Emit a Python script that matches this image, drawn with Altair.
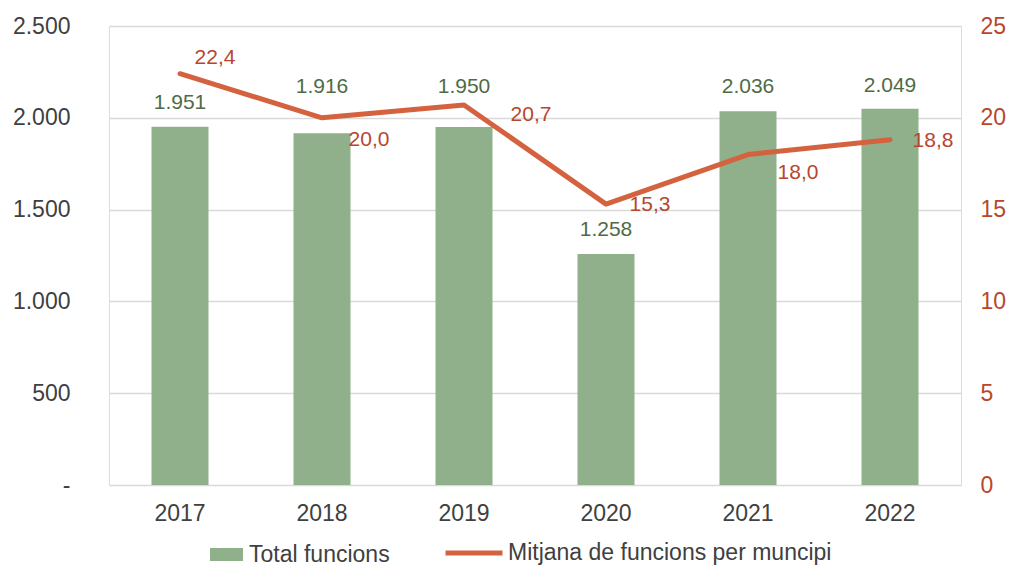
import altair as alt
import pandas as pd

# ---- data ----
years = ["2017", "2018", "2019", "2020", "2021", "2022"]
total_funcions = [1951, 1916, 1950, 1258, 2036, 2049]
mitjana = [22.4, 20.0, 20.7, 15.3, 18.0, 18.8]
left_ticks = [0, 500, 1000, 1500, 2000, 2500]
right_ticks = [0, 5, 10, 15, 20, 25]
bar_series = "Total funcions"
line_series = "Mitjana de funcions per muncipi"

df = pd.DataFrame({"any": years, "total": total_funcions, "mitjana": mitjana})

# ---- styles ----
FONT = "Liberation Sans"
BAR_COLOR = "#8FB08B"
LINE_COLOR = "#D4623F"
BAR_LABEL = "#4F6B45"
LINE_LABEL = "#B8462D"
AXIS_TEXT = "#404040"
GRID = "#D9D9D9"

# per-label offsets (dx, dy) for the line data labels
line_label_offsets = {
    "2017": (35, -16),
    "2018": (47, 22),
    "2019": (67, 10),
    "2020": (44, 1),
    "2021": (50, 18),
    "2022": (43, 1),
}
# per-label vertical offsets for the bar data labels
bar_label_dy = {
    "2017": -24,
    "2018": -46,
    "2019": -40,
    "2020": -24,
    "2021": -24,
    "2022": -23,
}

x_enc = alt.X(
    "any:N",
    sort=years,
    scale=alt.Scale(paddingInner=0.6, paddingOuter=0.3),
    axis=alt.Axis(
        title=None, labelAngle=0, labelFontSize=23, labelColor=AXIS_TEXT,
        labelFont=FONT, ticks=False, domain=False, grid=False, labelPadding=17,
    ),
)

y_left = alt.Y(
    "total:Q",
    scale=alt.Scale(domain=[0, 2500], nice=False),
    axis=alt.Axis(
        title=None, orient="left", values=left_ticks,
        labelExpr="datum.value == 0 ? '-' : replace(format(datum.value, ','), ',', '.')",
        labelFontSize=23, labelColor=AXIS_TEXT, labelFont=FONT,
        ticks=False, domain=False, grid=True, gridColor=GRID, gridWidth=1.5,
        labelPadding=39,
    ),
)

y_right = alt.Y(
    "mitjana:Q",
    scale=alt.Scale(domain=[0, 25], nice=False),
    axis=alt.Axis(
        title=None, orient="right", values=right_ticks, format="d",
        labelFontSize=23, labelColor=LINE_LABEL, labelFont=FONT,
        ticks=False, domain=False, grid=False, labelPadding=19,
    ),
)

base = alt.Chart(df)

bars = base.transform_calculate(serie=f"'{bar_series}'").mark_bar(size=57).encode(
    x=x_enc,
    y=y_left,
    color=alt.Color(
        "serie:N",
        scale=alt.Scale(domain=[bar_series], range=[BAR_COLOR]),
        legend=alt.Legend(
            title=None, orient="none", legendX=101, legendY=512,
            symbolType="M-1,-0.39H1V0.39H-1Z", symbolSize=1089,
            symbolStrokeWidth=0, labelFontSize=23, labelFont=FONT,
            labelColor=AXIS_TEXT, labelOffset=6, padding=0, labelLimit=600,
        ),
    ),
)

bar_label_layers = []
for yr in years:
    bar_label_layers.append(
        base.transform_filter(f"datum.any == '{yr}'")
        .transform_calculate(lbl="replace(format(datum.total, ','), ',', '.')")
        .mark_text(fontSize=21, font=FONT, color=BAR_LABEL, baseline="middle",
                   align="center", dy=bar_label_dy[yr])
        .encode(x=x_enc, y=y_left, text="lbl:N")
    )

left_layer = alt.layer(bars, *bar_label_layers)

line = base.transform_calculate(serie=f"'{line_series}'").mark_line(
    strokeWidth=5, strokeCap="round", strokeJoin="round"
).encode(
    x=x_enc,
    y=y_right,
    stroke=alt.Stroke(
        "serie:N",
        scale=alt.Scale(domain=[line_series], range=[LINE_COLOR]),
        legend=alt.Legend(
            title=None, orient="none", legendX=334, legendY=496,
            symbolType="stroke", symbolSize=3249, symbolStrokeWidth=5,
            labelFontSize=23, labelFont=FONT, labelColor=AXIS_TEXT,
            labelOffset=3, padding=0, labelLimit=600,
        ),
    ),
)

line_label_layers = []
for yr in years:
    dx, dy = line_label_offsets[yr]
    line_label_layers.append(
        base.transform_filter(f"datum.any == '{yr}'")
        .transform_calculate(lbl="replace(format(datum.mitjana, '.1f'), '.', ',')")
        .mark_text(fontSize=21, font=FONT, color=LINE_LABEL, baseline="middle",
                   align="center", dx=dx, dy=dy)
        .encode(x=x_enc, y=y_right, text="lbl:N")
    )

right_layer = alt.layer(line, *line_label_layers)

chart = (
    alt.layer(left_layer, right_layer)
    .resolve_scale(y="independent", color="independent", stroke="independent")
    .properties(
        width=852, height=459,
        autosize=alt.AutoSizeParams(type="none"),
        padding={"left": 101, "top": 18, "right": 45, "bottom": 81},
    )
    .configure_view(stroke="transparent", strokeWidth=0)
    .configure(font=FONT)
)

chart.save("out.html", embed_options={"renderer": "svg", "actions": False})
